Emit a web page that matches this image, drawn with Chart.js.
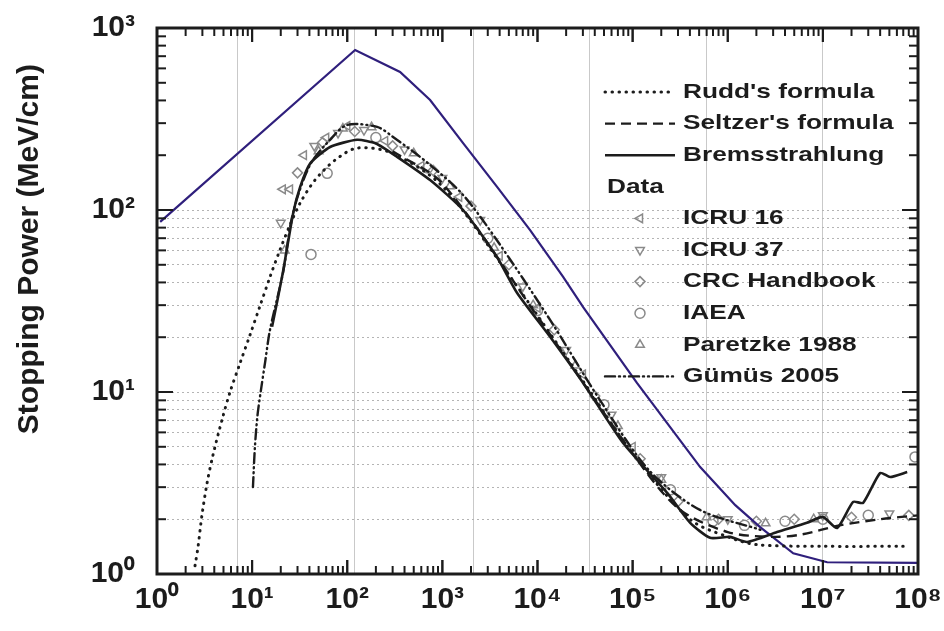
<!DOCTYPE html>
<html>
<head>
<meta charset="utf-8">
<script src="https://cdn.jsdelivr.net/npm/chart.js@4.4.1/dist/chart.umd.min.js"></script>
<style>
  html, body { margin: 0; padding: 0; background: #fff; }
  #wrap { width: 944px; height: 631px; }
</style>
</head>
<body>
<div id="wrap"><canvas id="sp" width="944" height="631"></canvas></div>
<script>
// ── 軸 ──────────────────────────────────────────────────────────────────────
const xTickLabels = ['10⁰', '10¹', '10²', '10³', '10⁴', '10⁵', '10⁶', '10⁷', '10⁸'];
const yTickLabels = ['10⁰', '10¹', '10²', '10³'];
const xGridValues = [7, 120, 2100, 35000, 6e5, 1e7];   // vertical grid lines as drawn in the figure

// ── 曲線 (energy eV / stopping power MeV/cm) ────────────────────────────────
const upperE = [1.08, 121, 359, 743, 1652, 3760, 8360, 18600, 30200, 111500, 513000, 1.2e6, 2.19e6, 4.88e6, 1.11e7, 1e8];
const upperS = [86, 757, 573, 402, 233, 134, 77.6, 42.9, 29.3, 11.2, 3.87, 2.39, 1.81, 1.30, 1.16, 1.15];

const bremE = [16.2, 21, 27, 32, 41, 66, 127, 200, 334, 743, 1650, 3760, 6110, 13560, 30200, 79400, 231000, 403000, 653000, 1.06e6, 1.6e6, 3.3e6, 6.8e6, 1.0e7, 1.41e7, 2.08e7, 2.65e7, 4.0e7, 5.1e7, 7.7e7];
const bremS = [22.8, 45, 96, 134, 181, 222, 243, 232, 196, 146, 100, 55, 35, 20.1, 11.2, 5.24, 2.79, 1.91, 1.58, 1.6, 1.50, 1.70, 1.91, 2.06, 1.79, 2.49, 2.46, 3.59, 3.41, 3.63];

const ruddE = [2.51, 2.70, 2.97, 3.36, 3.88, 4.82, 5.86, 7.46, 9.51, 12.1, 15.4, 19.6, 25, 31.9, 45.8, 74.5, 127, 300, 1000, 5000, 30000, 1e5, 4e5, 1e6, 2e6, 1e7, 7e7];
const ruddS = [1.11, 1.41, 2.11, 3.16, 4.51, 7.02, 10.0, 14.4, 20.6, 29.7, 42.8, 60.3, 82.7, 109, 146, 188, 219, 205, 135, 44, 11.5, 4.6, 2.0, 1.6, 1.45, 1.42, 1.42];

const seltzerE = [300, 1000, 1e4, 1e5, 3e5, 1e6, 3e6, 6e6, 1.5e7, 4e7, 1e8];
const seltzerS = [210, 140, 26, 4.6, 2.3, 1.7, 1.6, 1.65, 1.85, 2.0, 2.1];

const gumusE = [10.2, 10.7, 11.4, 12.4, 13.7, 15.4, 21.1, 26.9, 40.6, 65.9, 99.5, 206, 303, 743, 1650, 3760, 13560, 45500, 1.5e5, 5.1e5, 2.2e6];
const gumusS = [3.0, 4.99, 7.48, 10.3, 14.6, 21.9, 45.1, 96.3, 177, 243, 293, 286, 252, 177, 121, 68, 24.9, 9.0, 3.7, 2.25, 1.75];

// ── 資料點 ──────────────────────────────────────────────────────────────────
const icru16E = [21, 25, 35, 60, 100, 250, 600, 1500, 4000, 1e4, 3e4, 1e5];
const icru16S = [130, 130, 200, 250, 290, 240, 175, 118, 56, 29, 12.5, 5.0];
const icru37E = [20, 45, 80, 150, 400, 1000, 2500, 7000, 2e4, 6e4, 2e5, 1e6, 1e7, 5e7];
const icru37S = [85, 225, 265, 275, 215, 150, 88, 38, 17, 7.5, 3.4, 2.0, 2.1, 2.15];
const crcE = [30, 55, 120, 300, 800, 2000, 5000, 1.5e4, 4e4, 1.2e5, 3e5, 8e5, 2e6, 5e6, 2e7, 8e7];
const crcS = [160, 235, 270, 225, 165, 105, 50, 22, 9.5, 4.3, 2.5, 2.0, 1.95, 2.0, 2.05, 2.1];
const iaeaE = [41.6, 61.5, 200, 700, 3000, 1e4, 5e4, 2.5e5, 7e5, 1.5e6, 4e6, 1e7, 3e7, 9.3e7];
const iaeaS = [57, 159, 250, 170, 70, 28, 8.5, 2.9, 1.95, 1.85, 1.95, 2.0, 2.1, 4.4];
const paretzkeE = [22, 50, 90, 180, 500, 1200, 3500, 9000, 2.5e4, 7e4, 2e5, 6e5, 2.5e6, 8e6];
const paretzkeS = [60, 210, 280, 285, 205, 135, 62, 30, 14, 6.5, 3.3, 2.05, 1.9, 2.0];

const legendRows = ["Rudd's formula", "Seltzer's formula", 'Bremsstrahlung', 'Data',
  'ICRU 16', 'ICRU 37', 'CRC Handbook', 'IAEA', 'Paretzke 1988', 'Gümüs 2005'];

const pts = (E, S) => E.map((e, i) => ({ x: e, y: S[i] }));
const decadeIdx = v => { const k = Math.log10(v); return Math.abs(k - Math.round(k)) < 1e-6 ? Math.round(k) : -1; };

const INK = '#1c1c1c', GRAY = '#8a8a8a';
const lineDs = (label, E, S, color, dash, w, tension) => ({
  label, data: pts(E, S), showLine: true, borderColor: color, borderWidth: w,
  borderDash: dash, borderCapStyle: dash.length && dash[0] <= 2 ? 'round' : 'butt',
  pointRadius: 0, tension, fill: false
});
const markDs = (label, E, S, style, rotation) => ({
  label, data: pts(E, S), showLine: false, pointStyle: style, rotation,
  pointRadius: 5, borderWidth: 1.5, borderColor: GRAY, backgroundColor: 'rgba(255,255,255,0)'
});

const datasets = [
  lineDs('Bremsstrahlung', bremE, bremS, INK, [], 2.6, 0.2),
  lineDs("Rudd's formula", ruddE, ruddS, INK, [0.5, 6.5], 3, 0.3),
  lineDs("Seltzer's formula", seltzerE, seltzerS, INK, [10, 6], 2.4, 0.3),
  lineDs('Gümüs 2005', gumusE, gumusS, INK, [10, 4, 1, 4, 1, 4], 2.4, 0.3),
  lineDs('upper', upperE, upperS, '#2f1f7c', [], 2.2, 0),
  markDs('ICRU 16', icru16E, icru16S, 'triangle', -90),
  markDs('ICRU 37', icru37E, icru37S, 'triangle', 180),
  markDs('CRC Handbook', crcE, crcS, 'rectRot', 0),
  markDs('IAEA', iaeaE, iaeaS, 'circle', 0),
  markDs('Paretzke 1988', paretzkeE, paretzkeS, 'triangle', 0)
];
datasets[3].borderCapStyle = 'round';

// ── 邊框、刻度、標題、圖例 ───────────────────────────────────────────────────
function drawMarker(ctx, style, rot, x, y, r) {
  ctx.beginPath();
  if (style === 'circle') ctx.arc(x, y, r, 0, Math.PI * 2);
  else if (style === 'rectRot') { ctx.moveTo(x, y - r); ctx.lineTo(x + r, y); ctx.lineTo(x, y + r); ctx.lineTo(x - r, y); ctx.closePath(); }
  else {
    let a = rot * Math.PI / 180;
    for (let i = 0; i < 3; i++) {
      const px = x + Math.sin(a) * r, py = y - Math.cos(a) * r;
      i ? ctx.lineTo(px, py) : ctx.moveTo(px, py);
      a += Math.PI * 2 / 3;
    }
    ctx.closePath();
  }
  ctx.stroke();
}

const framePlugin = {
  id: 'frame',
  afterDraw(chart) {
    const { ctx, chartArea: a, scales: { x, y } } = chart;
    const seg = (x1, y1, x2, y2) => { ctx.beginPath(); ctx.moveTo(x1, y1); ctx.lineTo(x2, y2); ctx.stroke(); };
    ctx.save();
    ctx.strokeStyle = INK; ctx.lineWidth = 2;
    for (let k = 0; k < 8; k++) for (let m = 1; m <= 10; m++) {
      const px = x.getPixelForValue(m * 10 ** k), len = (m === 1 || m === 10) ? 14 : 8;
      seg(px, a.bottom, px, a.bottom - len); seg(px, a.top, px, a.top + len);
    }
    for (let k = 0; k < 3; k++) for (let m = 1; m <= 10; m++) {
      const py = y.getPixelForValue(m * 10 ** k), len = (m === 1 || m === 10) ? 16 : 9;
      seg(a.left, py, a.left + len, py); seg(a.right, py, a.right - len, py);
    }
    ctx.lineWidth = 3;
    ctx.strokeRect(a.left, a.top, a.right - a.left, a.bottom - a.top);

    // y 軸標題
    ctx.save();
    ctx.translate(30, a.top + (a.bottom - a.top) * 0.405);
    ctx.rotate(-Math.PI / 2);
    ctx.fillStyle = INK; ctx.font = 'bold 30px "Liberation Sans", Arial, sans-serif';
    ctx.textAlign = 'center'; ctx.textBaseline = 'middle';
    ctx.fillText('Stopping Power (MeV/cm)', 0, 0);
    ctx.restore();

    // 圖例
    const x0 = a.right - 313, x1 = a.right - 243, tx = a.right - 235, mx = a.right - 278;
    const y0 = a.top + 64, step = 31.6;
    ctx.font = 'bold 21px "Liberation Sans", Arial, sans-serif';
    ctx.textBaseline = 'middle';
    legendRows.forEach((label, i) => {
      const ry = y0 + i * step;
      const ds = chart.data.datasets.find(d => d.label === label);
      if (!ds) {
        ctx.save(); ctx.translate(x0 + 2, ry); ctx.scale(1.25, 1);
        ctx.fillStyle = INK; ctx.textAlign = 'left'; ctx.fillText(label, 0, 0); ctx.restore();
        return;
      }
      ctx.save();
      if (ds.showLine) {
        ctx.strokeStyle = ds.borderColor; ctx.lineWidth = ds.borderWidth;
        ctx.setLineDash(ds.borderDash); ctx.lineCap = ds.borderCapStyle;
        seg(x0, ry, x1, ry);
      } else {
        ctx.strokeStyle = ds.borderColor; ctx.lineWidth = 1.5;
        drawMarker(ctx, ds.pointStyle, ds.rotation, mx, ry, 5);
      }
      ctx.restore();
      ctx.save(); ctx.translate(tx, ry); ctx.scale(1.25, 1);
      ctx.fillStyle = INK; ctx.textAlign = 'left'; ctx.fillText(label, 0, 0); ctx.restore();
    });
    ctx.restore();
  }
};

const tickFont = { family: '"Liberation Sans", Arial, sans-serif', size: 30, weight: 'bold' };

new Chart(document.getElementById('sp'), {
  type: 'scatter',
  data: { datasets },
  options: {
    responsive: false, animation: false, devicePixelRatio: 1,
    layout: { padding: { top: 28, right: 26, left: 0, bottom: 0 } },
    plugins: { legend: { display: false }, tooltip: { enabled: false } },
    scales: {
      x: {
        type: 'logarithmic', min: 1, max: 1e8,
        afterBuildTicks: s => {
          const vals = new Set(xTickLabels.map((_, k) => 10 ** k).concat(xGridValues));
          s.ticks = [...vals].sort((p, q) => p - q).map(v => ({ value: v }));
        },
        afterFit: s => { s.height = 57; s.paddingLeft = 0; s.paddingRight = 0; },
        ticks: {
          autoSkip: false, maxRotation: 0, padding: 8, color: INK, font: tickFont,
          callback: v => { const k = decadeIdx(v); return k >= 0 ? xTickLabels[k] : ''; }
        },
        grid: {
          drawTicks: false, lineWidth: 1,
          color: c => xGridValues.includes(c.tick && c.tick.value) ? '#c9c9c9' : 'rgba(0,0,0,0)'
        },
        border: { display: false }
      },
      y: {
        type: 'logarithmic', min: 1, max: 1000,
        afterBuildTicks: s => {
          const vals = [];
          for (let k = 0; k < 3; k++) for (let m = 1; m < 10; m++) vals.push(m * 10 ** k);
          vals.push(1000);
          s.ticks = vals.map(v => ({ value: v }));
        },
        afterFit: s => { s.width = 157; s.paddingTop = 0; s.paddingBottom = 0; },
        ticks: {
          autoSkip: false, padding: 22, color: INK, font: tickFont,
          callback: v => { const k = decadeIdx(v); return k >= 0 ? yTickLabels[k] : ''; }
        },
        grid: {
          drawTicks: false, lineWidth: 1,
          color: c => (c.tick && c.tick.value <= 100) ? '#b4b4b4' : 'rgba(0,0,0,0)'
        },
        border: { display: false, dash: [2, 3] }
      }
    }
  },
  plugins: [framePlugin]
});
</script>
</body>
</html>
